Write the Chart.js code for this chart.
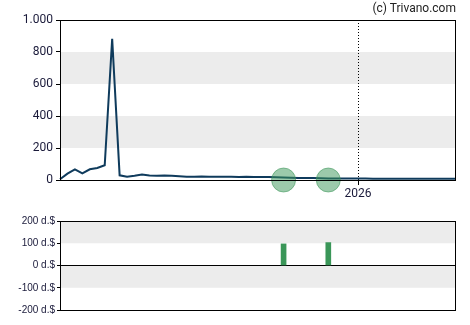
<!DOCTYPE html>
<html>
<head>
<meta charset="utf-8">
<script src="https://cdn.jsdelivr.net/npm/chart.js@4/dist/chart.umd.min.js"></script>
<style>
  body { margin: 0; background: #fff; }
  #wrap { position: relative; width: 470px; height: 325px; }
  #copy { position: absolute; right: 14px; top: 1px; font: 12px Roboto, Arial, sans-serif; color: #222; }
  #price { position: absolute; left: 0; top: 0; }
  #divs { position: absolute; left: 0; top: 200px; }
</style>
</head>
<body>
<div id="wrap">
  <canvas id="price" width="470" height="200"></canvas>
  <canvas id="divs" width="470" height="125"></canvas>
  <div id="copy">(c) Trivano.com</div>
</div>
<script>
// weekly dates
const weeks = [
  '2025-03-31', '2025-04-07', '2025-04-14', '2025-04-21', '2025-04-28', '2025-05-05',
  '2025-05-12', '2025-05-19', '2025-05-26', '2025-06-02', '2025-06-09', '2025-06-16',
  '2025-06-23', '2025-06-30', '2025-07-07', '2025-07-14', '2025-07-21', '2025-07-28',
  '2025-08-04', '2025-08-11', '2025-08-18', '2025-08-25', '2025-09-01', '2025-09-08',
  '2025-09-15', '2025-09-22', '2025-09-29', '2025-10-06', '2025-10-13', '2025-10-20',
  '2025-10-27', '2025-11-03', '2025-11-10', '2025-11-17', '2025-11-24', '2025-12-01',
  '2025-12-08', '2025-12-15', '2025-12-22', '2025-12-29', '2026-01-05', '2026-01-12',
  '2026-01-19', '2026-01-26', '2026-02-02', '2026-02-09', '2026-02-16', '2026-02-23',
  '2026-03-02', '2026-03-09', '2026-03-16', '2026-03-23', '2026-03-30', '2026-04-06'
];

const prices = [
  5, 40, 67, 42, 67, 75, 92, 883, 29, 21,
  27, 35, 28, 27, 28, 27, 24, 21, 21, 22,
  20, 21, 20, 21, 19, 20, 19, 18, 18, 17,
  15, 14, 13, 12, 12, 11, 10, 9, 9, 9,
  9, 9, 8, 8, 8, 8, 8, 8, 8, 8,
  8, 8, 8, 8
];

const divDates = ['2025-10-27', '2025-12-08'];
const divAmounts = [97, 103];

const priceTicks = [0, 200, 400, 600, 800, 1000];
const divTicks = [-200, -100, 0, 100, 200];

const textColor = '#1a1a3a';
const lineColor = '#0f3b5c';
const green = 'rgb(58, 150, 88)';

function fmt(v) {
    return String(Math.abs(v)).replace(/\B(?=(\d{3})+(?!\d))/g, '.').replace(/^/, v < 0 ? '-' : '');
}

// ticks where the year changes
function yearLabel(i) {
    if (i === 0) return '';
    const y = weeks[i].slice(0, 4);
    return y !== weeks[i - 1].slice(0, 4) ? y : '';
}

const divMarks = weeks.map(w => divDates.includes(w) ? 0 : null);
const divBars = weeks.map(w => {
    const k = divDates.indexOf(w);
    return k >= 0 ? divAmounts[k] : null;
});

// grey bands + frame
const frame = {
    id: 'frame',
    beforeDraw(chart, args, opts) {
        const { ctx, chartArea: a, scales: { y } } = chart;
        ctx.save();
        ctx.fillStyle = '#ececec';
        opts.bands.forEach(([lo, hi]) => {
            const top = y.getPixelForValue(hi);
            const bot = y.getPixelForValue(lo);
            ctx.fillRect(a.left, top, a.right - a.left, bot - top);
        });
        ctx.restore();
    },
    afterDraw(chart) {
        const { ctx, chartArea: a } = chart;
        ctx.save();
        ctx.strokeStyle = '#000';
        ctx.lineWidth = 1;
        ctx.strokeRect(a.left + 0.5, a.top + 0.5, a.right - a.left, a.bottom - a.top);
        ctx.restore();
    }
};

new Chart(document.getElementById('price'), {
    type: 'line',
    data: {
        labels: weeks,
        datasets: [
            {
                data: divMarks,
                showLine: false,
                pointRadius: 12,
                pointHoverRadius: 12,
                pointBackgroundColor: 'rgba(58, 150, 88, 0.5)',
                pointBorderColor: 'rgba(58, 150, 88, 0.55)',
                pointBorderWidth: 1,
                clip: false
            },
            {
                data: prices,
                borderColor: lineColor,
                borderWidth: 2,
                pointRadius: 0,
                tension: 0,
                fill: false
            }
        ]
    },
    options: {
        responsive: false,
        animation: false,
        events: [],
        layout: { padding: { top: 20, right: 15, left: 0, bottom: 0 } },
        plugins: {
            legend: { display: false },
            tooltip: { enabled: false },
            frame: { bands: [[200, 400], [600, 800]] }
        },
        scales: {
            x: {
                offset: false,
                afterFit: s => { s.height = 20; },
                border: { display: false, dash: [1, 2] },
                grid: {
                    drawOnChartArea: true,
                    color: c => yearLabel(c.index) ? '#000' : 'rgba(0,0,0,0)',
                    tickColor: c => yearLabel(c.index) ? '#000' : 'rgba(0,0,0,0)',
                    tickLength: 5,
                    lineWidth: 1
                },
                ticks: {
                    autoSkip: false,
                    maxRotation: 0,
                    padding: 2,
                    color: textColor,
                    font: { family: 'Roboto', size: 12 },
                    callback: (v, i) => yearLabel(i)
                }
            },
            y: {
                min: 0,
                max: 1000,
                afterFit: s => { s.width = 60; },
                afterBuildTicks: s => { s.ticks = priceTicks.map(v => ({ value: v })); },
                border: { display: false },
                grid: { drawOnChartArea: false, tickLength: 4, tickColor: '#000' },
                ticks: {
                    padding: 3,
                    color: textColor,
                    font: { family: 'Roboto', size: 12 },
                    callback: v => fmt(v)
                }
            }
        }
    },
    plugins: [frame]
});

new Chart(document.getElementById('divs'), {
    type: 'bar',
    data: {
        labels: weeks,
        datasets: [{
            data: divBars,
            backgroundColor: green,
            barThickness: 5
        }]
    },
    options: {
        responsive: false,
        animation: false,
        events: [],
        layout: { padding: { top: 21, right: 15, left: 0, bottom: 0 } },
        plugins: {
            legend: { display: false },
            tooltip: { enabled: false },
            frame: { bands: [[100, 200], [-100, 0]] }
        },
        scales: {
            x: {
                offset: false,
                afterFit: s => { s.height = 15; },
                border: { display: false },
                grid: { display: false },
                ticks: { display: false }
            },
            y: {
                min: -200,
                max: 200,
                afterFit: s => { s.width = 60; },
                afterBuildTicks: s => { s.ticks = divTicks.map(v => ({ value: v })); },
                border: { display: false },
                grid: {
                    drawOnChartArea: true,
                    color: c => c.tick && c.tick.value === 0 ? '#000' : 'rgba(0,0,0,0)',
                    tickColor: '#000',
                    tickLength: 3
                },
                ticks: {
                    padding: 2,
                    color: textColor,
                    font: { family: 'Arial', size: 10 },
                    callback: v => fmt(v) + ' d.$'
                }
            }
        }
    },
    plugins: [frame]
});
</script>
</body>
</html>
